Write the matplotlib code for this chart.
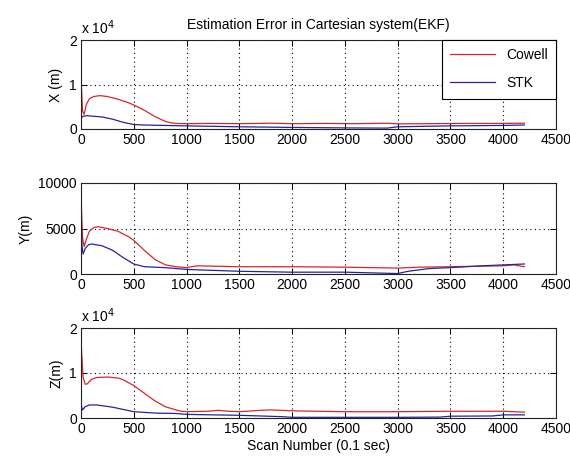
import matplotlib
matplotlib.use("Agg")
import matplotlib.pyplot as plt
from matplotlib.ticker import FuncFormatter

plt.rcParams['font.family'] = ['Liberation Sans', 'DejaVu Sans']

# ---------------- data ----------------
x_cowell_x = [0, 5, 15, 30, 50, 80, 120, 180, 250, 350, 450, 500, 600, 700, 800, 850, 900, 1000,
              1200, 1500, 1800, 2000, 2300, 2600, 2900, 3000, 3300, 3600, 3900, 4200]
y_cowell_x = [12500, 9000, 4000, 3300, 5500, 6800, 7300, 7500, 7300, 6700, 5900, 5400, 4200, 2800,
              1700, 1400, 1250, 1200, 1250, 1200, 1300, 1200, 1250, 1200, 1300, 1150, 1200, 1250, 1250, 1300]
x_stk_x = [0, 10, 30, 60, 100, 200, 300, 400, 500, 600, 800, 1000, 1500, 2000, 2500, 2900, 3000,
           3500, 4000, 4200]
y_stk_x = [2000, 2800, 2900, 3000, 2900, 2700, 2200, 1500, 1000, 900, 800, 700, 500, 350, 250, 200,
           500, 700, 800, 900]

x_cowell_y = [0, 5, 15, 30, 50, 80, 120, 160, 250, 350, 450, 500, 600, 700, 800, 900, 1000, 1100,
              1300, 1500, 2000, 2500, 3000, 3200, 3500, 4000, 4100, 4200]
y_cowell_y = [9500, 7000, 4000, 3000, 3800, 4700, 5100, 5200, 5000, 4700, 4100, 3700, 2600, 1600,
              1000, 800, 700, 900, 850, 800, 800, 750, 650, 750, 800, 900, 1000, 800]
x_stk_y = [0, 5, 10, 20, 40, 70, 100, 200, 300, 400, 500, 600, 800, 1000, 1500, 2000, 2500, 3000,
           3100, 3300, 3500, 3800, 4000, 4200]
y_stk_y = [3000, 5000, 3000, 2200, 2800, 3200, 3300, 3100, 2600, 1800, 1100, 800, 700, 500, 300,
           200, 200, 50, 300, 600, 700, 900, 1000, 1100]

x_cowell_z = [0, 5, 20, 40, 60, 100, 150, 250, 350, 400, 500, 600, 700, 800, 900, 950, 1000, 1200,
              1300, 1400, 1500, 1700, 1800, 2000, 2500, 3000, 3500, 4000, 4200]
y_cowell_z = [18000, 15000, 9000, 7500, 7600, 8600, 9000, 9100, 8900, 8500, 7200, 5500, 3800, 2500,
              1800, 1500, 1400, 1500, 1700, 1500, 1400, 1700, 1800, 1600, 1400, 1400, 1500, 1500, 1300]
x_stk_z = [0, 5, 15, 40, 80, 150, 300, 400, 500, 700, 900, 1000, 1500, 1900, 2000, 2500, 3000,
           3400, 3500, 3900, 4000, 4200]
y_stk_z = [3500, 2500, 1800, 2500, 2900, 2900, 2400, 1900, 1400, 1100, 1000, 800, 600, 300, 150,
           150, 150, 200, 400, 450, 700, 700]

x_ticks = [0, 500, 1000, 1500, 2000, 2500, 3000, 3500, 4000, 4500]
title = "Estimation Error in Cartesian system(EKF)"
xlabel = "Scan Number (0.1 sec)"

RED = '#d8262a'
BLUE = '#24249a'

fig = plt.figure(figsize=(5.70, 4.59), dpi=100)

rects = [
    [81/570, 1-129/459, 475/570, 89/459],
    [81/570, 1-274/459, 475/570, 91/459],
    [81/570, 1-418/459, 475/570, 90/459],
]

panels = [
    (x_cowell_x, y_cowell_x, x_stk_x, y_stk_x, "X (m)", [0, 10000, 20000], True),
    (x_cowell_y, y_cowell_y, x_stk_y, y_stk_y, "Y(m)", [0, 5000, 10000], False),
    (x_cowell_z, y_cowell_z, x_stk_z, y_stk_z, "Z(m)", [0, 10000, 20000], True),
]

axes = []
for rect, (xc, yc, xs, ys, lab, yt, sci) in zip(rects, panels):
    ax = fig.add_axes(rect)
    ax.plot(xc, yc, color=RED, lw=0.9, label='Cowell')
    ax.plot(xs, ys, color=BLUE, lw=0.9, label='STK')
    ax.set_xlim(0, 4500)
    ax.set_ylim(yt[0], yt[-1])
    ax.set_xticks(x_ticks)
    ax.set_yticks(yt)
    if sci:
        ax.yaxis.set_major_formatter(FuncFormatter(lambda v, p: f"{v/1e4:g}"))
        ax.text(0.0, 1.03, r"x 10$^4$", transform=ax.transAxes, fontsize=10,
                ha='left', va='bottom')
    ax.grid(True, color='black', linestyle=(0, (1, 3)), linewidth=0.8)
    ax.tick_params(direction='in', top=True, right=True, length=4, width=0.7,
                   labelsize=10, pad=3)
    for s in ax.spines.values():
        s.set_linewidth(0.8)
        s.set_color('#222222')
    ax.set_ylabel(lab, fontsize=10, labelpad=4)
    axes.append(ax)

axes[0].set_title(title, fontsize=10, pad=8)
axes[2].set_xlabel(xlabel, fontsize=10, labelpad=2)

leg = axes[0].legend(loc='upper right', fontsize=10, frameon=True, fancybox=False,
                     edgecolor='black', framealpha=1, borderaxespad=0.0,
                     handlelength=3.2, borderpad=0.6, labelspacing=1.0)
leg.get_frame().set_linewidth(0.8)

fig.savefig("out.png", dpi=100)
